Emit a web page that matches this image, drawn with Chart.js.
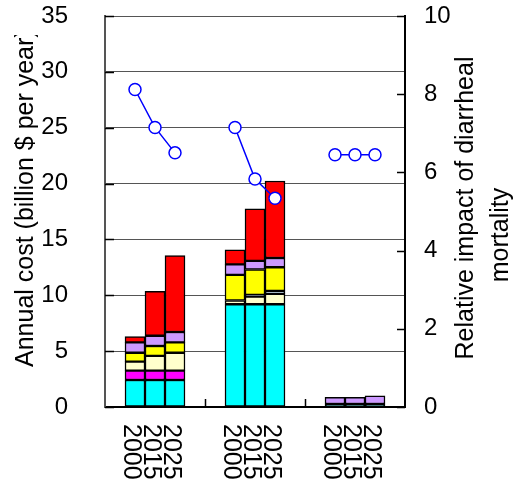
<!DOCTYPE html>
<html><head><meta charset="utf-8">
<script src="https://cdn.jsdelivr.net/npm/chart.js@4.4.0/dist/chart.umd.min.js"></script>
<style>html,body{margin:0;padding:0;background:#fff}</style>
</head><body>
<canvas id="c" width="518" height="490"></canvas>
<script>
// ---- data ----
const categories = ['', '2000', '2015', '2025', '', '', '2000', '2015', '2025', '', '', '2000', '2015', '2025', ''];
const teal     = [null, null, null, null, null, null, null, null, null, null, null, 0.27, 0.27, 0.27, null];
const cyan     = [null, 2.42, 2.42, 2.42, null, null, 9.20, 9.20, 9.20, null, null, null, null, null, null];
const magenta  = [null, 0.83, 0.83, 0.83, null, null, null, null, null, null, null, null, null, null, null];
const cream    = [null, 0.81, 1.32, 1.61, null, null, 0.33, 0.68, 0.92, null, null, null, null, null, null];
const steel    = [null, null, null, null, null, null, null, 0.15, 0.27, null, null, null, null, null, null];
const yellow   = [null, 0.80, 0.89, 0.93, null, null, 2.29, 2.28, 2.12, null, null, null, null, null, null];
const lavender = [null, 0.93, 0.92, 0.92, null, null, 0.95, 0.77, 0.83, null, null, 0.60, 0.60, 0.74, null];
const red      = [null, 0.51, 3.98, 6.84, null, null, 1.29, 4.65, 6.89, null, null, null, null, null, null];
const impact   = [null, 8.12, 7.15, 6.50, null, null, 7.15, 5.83, 5.34, null, null, 6.45, 6.45, 6.45, null];
const groupSize = 5;
const leftTitle = 'Annual cost (billion $ per year)';
const rightTitle = ['Relative impact of diarrheal', 'mortality'];

const FONT = 'Liberation Sans, Arial, sans-serif';

function barSet(data, color) {
  return { type: 'bar', data, backgroundColor: color, borderColor: '#000', borderWidth: 1.5,
           borderSkipped: false, barPercentage: 1, categoryPercentage: 1, yAxisID: 'y', order: 1 };
}

const decor = {
  id: 'decor',
  afterDatasetsDraw(chart) {
    const ctx = chart.ctx, a = chart.chartArea;
    const y = chart.scales.y, y1 = chart.scales.y1, x = chart.scales.x;
    ctx.save();
    ctx.strokeStyle = '#000';
    ctx.lineWidth = 1.5;
    ctx.beginPath();
    y.ticks.forEach(t => { const p = Math.round(y.getPixelForValue(t.value)) + 0.5; ctx.moveTo(a.left, p); ctx.lineTo(a.left + 9, p); });
    y1.ticks.forEach(t => { const p = Math.round(y1.getPixelForValue(t.value)) + 0.5; ctx.moveTo(a.right, p); ctx.lineTo(a.right - 8, p); });
    for (let i = groupSize; i < categories.length; i += groupSize) {
      const px = Math.round((x.getPixelForValue(i - 1) + x.getPixelForValue(i)) / 2) + 0.5;
      ctx.moveTo(px, a.bottom); ctx.lineTo(px, a.bottom - 8);
    }
    ctx.stroke();
    ctx.restore();
  },
  afterDraw(chart) {
    const ctx = chart.ctx, x = chart.scales.x;
    ctx.save();
    ctx.fillStyle = '#000';
    ctx.font = '25px ' + FONT;
    ctx.textBaseline = 'alphabetic';
    // x labels rotated clockwise
    categories.forEach((lab, i) => {
      if (!lab) return;
      const px = x.getPixelForValue(i);
      ctx.save();
      ctx.translate(px - 11, 424);
      ctx.rotate(Math.PI / 2);
      ctx.textAlign = 'left';
      ctx.fillText(lab, 0, 0);
      ctx.restore();
    });
    // left title
    ctx.save();
    ctx.beginPath();
    ctx.rect(0, 35, 100, 455);
    ctx.clip();
    ctx.translate(33, 367);
    ctx.rotate(-Math.PI / 2);
    ctx.textAlign = 'left';
    ctx.fillText(leftTitle, 0, 0);
    ctx.restore();
    // right title
    ctx.save();
    ctx.translate(473, 208);
    ctx.rotate(-Math.PI / 2);
    ctx.textAlign = 'center';
    ctx.fillText(rightTitle[0], 0, 0);
    ctx.restore();
    ctx.save();
    ctx.translate(508, 235);
    ctx.rotate(-Math.PI / 2);
    ctx.textAlign = 'center';
    ctx.fillText(rightTitle[1], 0, 0);
    ctx.restore();
    ctx.restore();
  }
};

new Chart(document.getElementById('c'), {
  data: {
    labels: categories,
    datasets: [
      { type: 'line', data: impact, yAxisID: 'y1', order: 0, borderColor: '#0000ff', borderWidth: 1.5,
        pointRadius: 6, pointBackgroundColor: '#fff', pointBorderColor: '#0000ff', pointBorderWidth: 1.5,
        spanGaps: false, fill: false, tension: 0 },
      barSet(teal, '#006666'),
      barSet(cyan, '#00ffff'),
      barSet(magenta, '#ff00ff'),
      barSet(cream, '#ffffcc'),
      barSet(steel, '#9fb6c8'),
      barSet(yellow, '#ffff00'),
      barSet(lavender, '#cc99ff'),
      barSet(red, '#ff0000')
    ]
  },
  options: {
    responsive: false,
    animation: false,
    devicePixelRatio: 1,
    layout: { padding: { top: 16, left: 0, right: 0, bottom: 0 } },
    plugins: { legend: { display: false }, tooltip: { enabled: false } },
    scales: {
      x: { type: 'category', stacked: true, offset: true,
           ticks: { display: false }, grid: { display: false, drawTicks: false },
           border: { display: true, color: '#000', width: 2 },
           afterFit(s) { s.height = 83; } },
      y: { type: 'linear', position: 'left', stacked: true, min: 0, max: 35,
           ticks: { stepSize: 5, padding: 0, color: '#000', font: { family: FONT, size: 24 } },
           grid: { color: '#555', lineWidth: 1, drawTicks: true, tickLength: 37, tickColor: 'rgba(0,0,0,0)' },
           border: { color: '#555', width: 2 },
           afterFit(s) { s.width = 105; } },
      y1: { type: 'linear', position: 'right', min: 0, max: 10,
            ticks: { stepSize: 2, padding: 0, color: '#000', font: { family: FONT, size: 24 } },
            grid: { drawOnChartArea: false, drawTicks: true, tickLength: 19, tickColor: 'rgba(0,0,0,0)' },
            border: { color: '#000', width: 2 },
            afterFit(s) { s.width = 113; } }
    }
  },
  plugins: [decor]
});
</script>
</body></html>
